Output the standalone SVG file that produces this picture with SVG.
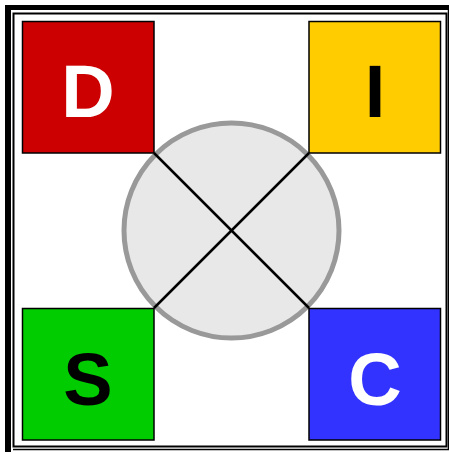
<svg xmlns="http://www.w3.org/2000/svg" width="449" height="452" viewBox="0 0 449 452">
<style>
.box{stroke:#000;stroke-width:1.5}
.lbl{font-family:"Liberation Sans",Arial,sans-serif;font-weight:bold;font-size:74px;text-anchor:middle}
</style>
<rect width="449" height="452" fill="#fff"/>
<g id="frame">
<rect x="5" y="5" width="444" height="5" fill="#000"/>
<rect x="5" y="5" width="6" height="447" fill="#000"/>
<rect x="13.5" y="13.5" width="433" height="433" fill="none" stroke="#000" stroke-width="2"/>
<line x1="13" y1="449.5" x2="449" y2="449.5" stroke="#000" stroke-width="1.5"/>
<line x1="448.5" y1="10" x2="448.5" y2="450" stroke="#000" stroke-width="1.5"/>
</g>
<g id="circle">
<circle cx="231.5" cy="230.5" r="107.5" fill="#e8e8e8" stroke="#999" stroke-width="5"/>
</g>
<g id="connectors" stroke="#000" stroke-width="2.5">
<line x1="154" y1="153" x2="309" y2="308"/>
<line x1="309" y1="153" x2="154" y2="308"/>
</g>
<g id="D"><rect class="box" x="22.5" y="21.5" width="131.5" height="131.5" fill="#CC0000"/><text class="lbl" x="88" y="117" fill="#fff">D</text></g>
<g id="I"><rect class="box" x="309" y="21.5" width="131.5" height="131.5" fill="#FFCC00"/><text class="lbl" x="375" y="117" fill="#000">I</text></g>
<g id="S"><rect class="box" x="22.5" y="308.5" width="131.5" height="131.5" fill="#00CC00"/><text class="lbl" x="88" y="405" fill="#000">S</text></g>
<g id="C"><rect class="box" x="309" y="308.5" width="131.5" height="131.5" fill="#3333FF"/><text class="lbl" x="375" y="405" fill="#fff">C</text></g>
</svg>
